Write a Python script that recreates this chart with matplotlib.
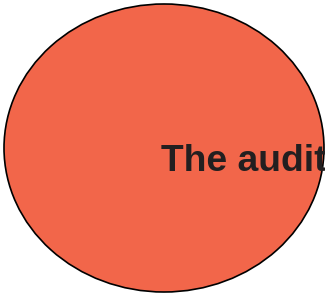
import matplotlib.pyplot as plt
from matplotlib.patches import Ellipse

plt.rcParams['font.family'] = ['Liberation Sans', 'DejaVu Sans']

# one set, drawn as a single ellipse
labels = ['The audit']
centers = [(164, 148)]
sizes = [(320, 288)]
colors = ['#F2664A']

fig = plt.figure(figsize=(3.25, 2.97), dpi=100)
ax = fig.add_axes([0, 0, 1, 1])
ax.set_xlim(0, 325)
ax.set_ylim(297, 0)
ax.axis('off')

for (cx, cy), (w, h), c, lab in zip(centers, sizes, colors, labels):
    e = Ellipse((cx, cy), w, h, facecolor=c, edgecolor='black', lw=1.2)
    ax.add_patch(e)
    t = ax.text(cx - 3, cy + 23, lab, fontsize=26.8, fontweight='bold',
                color='#231F20', ha='left', va='baseline')
    t.set_clip_path(e)

fig.savefig('out.png', dpi=100)
